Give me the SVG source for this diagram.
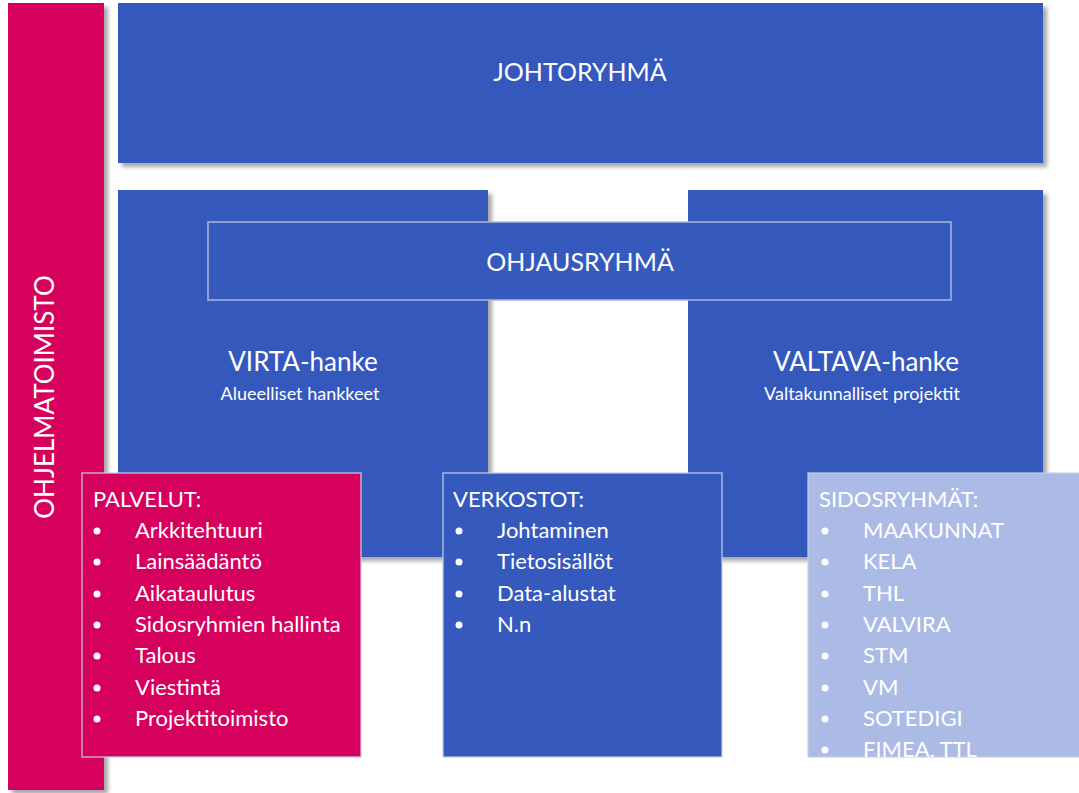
<svg xmlns="http://www.w3.org/2000/svg" width="1079" height="793" viewBox="0 0 1079 793">
<style>
text{font-family:Lato,"Open Sans","Liberation Sans",sans-serif;fill:#ffffff}
.blue{fill:#3559bd}
.pink{fill:#d6005d}
.light{fill:#abbbe6}
.edge{stroke:#c9cfe6;stroke-width:1.2}
.big{font-size:25px}
.mid{font-size:26px}
.sub{font-size:18px}
.list{font-size:22px}
</style>
<defs>
<filter id="sh" x="-5%" y="-5%" width="115%" height="115%">
<feDropShadow dx="4" dy="4" stdDeviation="2" flood-color="#000" flood-opacity="0.35"/>
</filter>
<clipPath id="clipS"><rect x="808" y="473" width="271" height="284"/></clipPath>
</defs>
<rect width="1079" height="793" fill="#ffffff"/>
<g id="ohjelmatoimisto">
<rect x="8" y="3" width="96" height="787" class="pink" filter="url(#sh)"/>
<text transform="translate(54,397) rotate(-90)" text-anchor="middle" font-size="26">OHJELMATOIMISTO</text>
</g>
<g id="johtoryhma">
<rect x="118" y="3" width="925" height="160" class="blue" filter="url(#sh)"/>
<text x="580" y="81" class="big" text-anchor="middle">JOHTORYHMÄ</text>
</g>
<g id="virta">
<rect x="118" y="190" width="370" height="367" class="blue" filter="url(#sh)"/>
<text x="303" y="371" class="mid" text-anchor="middle">VIRTA-hanke</text>
<text x="300" y="400" class="sub" text-anchor="middle">Alueelliset hankkeet</text>
</g>
<g id="valtava">
<rect x="688" y="190" width="355" height="367" class="blue" filter="url(#sh)"/>
<text x="866" y="371" class="mid" text-anchor="middle">VALTAVA-hanke</text>
<text x="862" y="400" class="sub" text-anchor="middle">Valtakunnalliset projektit</text>
</g>
<g id="ohjausryhma">
<rect x="208" y="222" width="743" height="78" class="blue" stroke="#a9b7e0" stroke-width="1.5"/>
<text x="580" y="271" class="big" text-anchor="middle">OHJAUSRYHMÄ</text>
</g>
<g id="palvelut">
<rect x="82" y="473" width="279" height="284" class="pink edge"/>
<text x="93" y="507" class="list">PALVELUT:</text>
<circle cx="97" cy="531" r="3.5" fill="#fff"/><text x="135" y="538" class="list">Arkkitehtuuri</text>
<circle cx="97" cy="562" r="3.5" fill="#fff"/><text x="135" y="569" class="list">Lainsäädäntö</text>
<circle cx="97" cy="594" r="3.5" fill="#fff"/><text x="135" y="601" class="list">Aikataulutus</text>
<circle cx="97" cy="625" r="3.5" fill="#fff"/><text x="135" y="632" class="list">Sidosryhmien hallinta</text>
<circle cx="97" cy="656" r="3.5" fill="#fff"/><text x="135" y="663" class="list">Talous</text>
<circle cx="97" cy="688" r="3.5" fill="#fff"/><text x="135" y="695" class="list">Viestintä</text>
<circle cx="97" cy="719" r="3.5" fill="#fff"/><text x="135" y="726" class="list">Projektitoimisto</text>
</g>
<g id="verkostot">
<rect x="443" y="473" width="279" height="284" class="blue edge"/>
<text x="453" y="507" class="list">VERKOSTOT:</text>
<circle cx="459" cy="531" r="3.5" fill="#fff"/><text x="497" y="538" class="list">Johtaminen</text>
<circle cx="459" cy="562" r="3.5" fill="#fff"/><text x="497" y="569" class="list">Tietosisällöt</text>
<circle cx="459" cy="594" r="3.5" fill="#fff"/><text x="497" y="601" class="list">Data-alustat</text>
<circle cx="459" cy="625" r="3.5" fill="#fff"/><text x="497" y="632" class="list">N.n</text>
</g>
<g id="sidosryhmat">
<rect x="808" y="473" width="275" height="284" class="light edge"/>
<g clip-path="url(#clipS)">
<text x="819" y="507" class="list">SIDOSRYHMÄT:</text>
<circle cx="825" cy="531" r="3.5" fill="#fff"/><text x="863" y="538" class="list">MAAKUNNAT</text>
<circle cx="825" cy="562" r="3.5" fill="#fff"/><text x="863" y="569" class="list">KELA</text>
<circle cx="825" cy="594" r="3.5" fill="#fff"/><text x="863" y="601" class="list">THL</text>
<circle cx="825" cy="625" r="3.5" fill="#fff"/><text x="863" y="632" class="list">VALVIRA</text>
<circle cx="825" cy="656" r="3.5" fill="#fff"/><text x="863" y="663" class="list">STM</text>
<circle cx="825" cy="688" r="3.5" fill="#fff"/><text x="863" y="695" class="list">VM</text>
<circle cx="825" cy="719" r="3.5" fill="#fff"/><text x="863" y="726" class="list">SOTEDIGI</text>
<circle cx="825" cy="750" r="3.5" fill="#fff"/><text x="863" y="757" class="list">FIMEA, TTL</text>
</g>
</g>
<g id="connectors"></g>
</svg>
